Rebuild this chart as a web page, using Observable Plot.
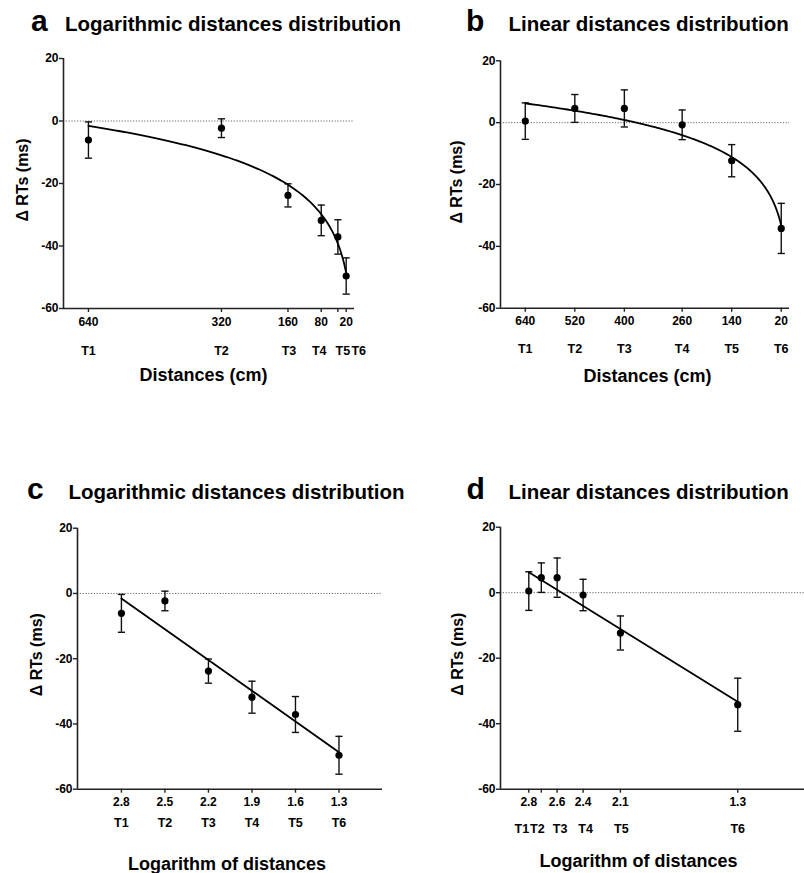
<!DOCTYPE html>
<html><head><meta charset="utf-8">
<script src="https://cdn.jsdelivr.net/npm/d3@7"></script>
<script src="https://cdn.jsdelivr.net/npm/@observablehq/plot@0.6"></script>
<style>
body{margin:0;background:#fff;}
#wrap{position:relative;width:804px;height:873px;overflow:hidden;font-family:"Liberation Sans",Arial,sans-serif;color:#000;background:#fff;}
.letter{position:absolute;font-weight:bold;font-size:30px;line-height:1;white-space:nowrap;}
.title{position:absolute;font-weight:bold;font-size:20.5px;line-height:1;white-space:nowrap;}
.panel{position:absolute;}
</style></head>
<body><div id="wrap"></div>
<script>
// ---- data ----
const tLabels = ["T1","T2","T3","T4","T5","T6"];
const logDistances = [640,320,160,80,40,20];     // cm, logarithmic distribution
const linDistances = [640,520,400,260,140,20];   // cm, linear distribution
const logMeans = [-6.1,-2.3,-23.8,-31.8,-37.1,-49.6];
const logSE    = [5.8,3.0,3.7,4.9,5.5,5.8];
const linMeans = [0.5,4.6,4.6,-0.7,-12.3,-34.2];
const linSE    = [5.9,4.5,6.0,4.8,5.2,8.1];
const tickA = ["640","320","160","80","","20"];
const tickB = ["640","520","400","260","140","20"];
const tickC = ["2.8","2.5","2.2","1.9","1.6","1.3"];
const tickD = ["2.8","","2.6","2.4","2.1","1.3"];
const yTicks = [-60,-40,-20,0,20];
const panelLetters = ["a","b","c","d"];
const panelTitles = ["Logarithmic distances distribution","Linear distances distribution","Logarithmic distances distribution","Linear distances distribution"];
const xLabels = ["Distances (cm)","Distances (cm)","Logarithm of distances","Logarithm of distances"];
const yLabel = "\u0394 RTs (ms)";

const wrap = document.getElementById("wrap");

const capSymbol = {draw(ctx, size){ const r = Math.sqrt(size/Math.PI); ctx.moveTo(-r,0); ctx.lineTo(r,0); }};

function logFitCurve(xs, ys){
  const lx = xs.map(Math.log);
  const mx = d3.mean(lx), my = d3.mean(ys);
  const b = d3.sum(lx,(v,i)=>(v-mx)*(ys[i]-my))/d3.sum(lx,v=>(v-mx)**2);
  const a = my - b*mx;
  const lo = Math.log(d3.min(xs)), hi = Math.log(d3.max(xs));
  return d3.range(0,201).map(i=>{const x=Math.exp(hi+(lo-hi)*i/200); return {x, y:a+b*Math.log(x)};});
}

function panel(cfg){
  const data = cfg.xs.map((x,i)=>({x, y:cfg.means[i], lo:cfg.means[i]-cfg.ses[i], hi:cfg.means[i]+cfg.ses[i], t:tLabels[i], tick:cfg.ticks[i], nudge:cfg.tNudge[i]}));
  const fmt = new Map(data.map(d=>[d.x,d.tick]));
  const marks = [
    Plot.ruleY([0],{stroke:"#666",strokeWidth:1,strokeDasharray:"1.2,1.6"}),
    Plot.ruleX(data,{x:"x",y1:"lo",y2:"hi",stroke:"#111",strokeWidth:1.4}),
    Plot.dot(data,{x:"x",y:"lo",symbol:capSymbol,r:3.6,stroke:"#111",fill:"none",strokeWidth:1.4}),
    Plot.dot(data,{x:"x",y:"hi",symbol:capSymbol,r:3.6,stroke:"#111",fill:"none",strokeWidth:1.4}),
  ];
  if (cfg.fit === "log") {
    marks.push(Plot.line(logFitCurve(cfg.xs,cfg.means),{x:"x",y:"y",stroke:"#000",strokeWidth:1.8}));
  } else {
    marks.push(Plot.linearRegressionY(data,{x:"x",y:"y",ci:0,stroke:"#000",strokeWidth:1.8}));
  }
  marks.push(
    Plot.dot(data,{x:"x",y:"y",r:3.6,fill:"#000",stroke:null}),
    Plot.ruleX([cfg.xDomain[0]],{stroke:"#222",strokeWidth:1.6}),
    Plot.ruleY([-60],{stroke:"#222",strokeWidth:1.6}),
    Plot.axisY({ticks:yTicks,tickSize:4,tickPadding:1,tickFormat:d=>String(d),label:null,stroke:"#222",strokeWidth:1.4,fontSize:12}),
    Plot.axisX(cfg.xs,{tickSize:4,tickPadding:4.5,tickFormat:d=>fmt.get(d),label:null,stroke:"#222",strokeWidth:1.4,fontSize:12})
  );
  // category labels under the ticks, each nudged apart where they crowd
  data.forEach(d=>{
    marks.push(Plot.text([d],{x:"x",text:"t",frameAnchor:"bottom",lineAnchor:"middle",dy:cfg.tDy,dx:d.nudge,fontSize:12.5}));
  });
  marks.push(
    Plot.text([cfg.xLabel],{frameAnchor:"bottom",textAnchor:"middle",lineAnchor:"middle",dy:cfg.labelDy,dx:cfg.labelDx,fontSize:18}),
    Plot.text([yLabel],{frameAnchor:"left",textAnchor:"middle",lineAnchor:"middle",rotate:-90,dx:cfg.yLabelDx,dy:cfg.yLabelDy,fontSize:16})
  );
  const svg = Plot.plot({
    width:cfg.width, height:cfg.height,
    marginTop:cfg.mTop, marginBottom:cfg.mBottom, marginLeft:cfg.mLeft, marginRight:cfg.mRight,
    x:{domain:cfg.xDomain},
    y:{domain:[-60,20]},
    style:{fontFamily:"'Liberation Sans', Arial, sans-serif",fontWeight:"bold",color:"#000",background:"transparent",overflow:"visible"},
    marks
  });
  svg.classList.add("panel");
  svg.style.left = cfg.left+"px";
  svg.style.top = cfg.top+"px";
  wrap.appendChild(svg);
}

const log10 = v => Math.log10(v);

panel({left:0,top:40,width:400,height:350,mTop:18,mBottom:82,mLeft:63,mRight:46,xDomain:[700,0],
  xs:logDistances,means:logMeans,ses:logSE,ticks:tickA,fit:"log",tDy:42,tNudge:[0,0,1,-2,5,12.5],labelDy:66.5,labelDx:-5.5,yLabelDx:-41,yLabelDy:-3.5,xLabel:xLabels[0]});
panel({left:400,top:40,width:404,height:350,mTop:20.3,mBottom:82.3,mLeft:100,mRight:15,xDomain:[700,0],
  xs:linDistances,means:linMeans,ses:linSE,ticks:tickB,fit:"log",tDy:40.3,tNudge:[0,0,0,0,0,0],labelDy:68,labelDx:2.5,yLabelDx:-44,yLabelDy:-2.5,xLabel:xLabels[1]});
panel({left:0,top:510,width:400,height:363,mTop:17.7,mBottom:84.3,mLeft:77,mRight:18,xDomain:[3.11,1.0],
  xs:logDistances.map(log10),means:logMeans,ses:logSE,ticks:tickC,fit:"linear",tDy:34,tNudge:[0,0,0,0,0,0],labelDy:75.5,labelDx:-3,yLabelDx:-41,yLabelDy:-4,xLabel:xLabels[2]});
panel({left:400,top:510,width:404,height:363,mTop:16.7,mBottom:84.3,mLeft:100,mRight:0,xDomain:[3.01,0.82],
  xs:linDistances.map(log10),means:linMeans,ses:linSE,ticks:tickD,fit:"linear",tDy:39.6,tNudge:[-7,-4,3,2.5,1,0],labelDy:72,labelDx:-14,yLabelDx:-42.5,yLabelDy:-4,xLabel:xLabels[3]});

// titles
const letterPos = [[31,6.3],[466,6.3],[27,474],[466.5,474]];
const titlePos = [[65,13.6],[508.5,13.6],[68.5,482],[508.5,482]];
panelLetters.forEach((l,i)=>{
  const e=document.createElement("div"); e.className="letter"; e.textContent=l;
  e.style.left=letterPos[i][0]+"px"; e.style.top=letterPos[i][1]+"px"; wrap.appendChild(e);
  const t=document.createElement("div"); t.className="title"; t.textContent=panelTitles[i];
  t.style.left=titlePos[i][0]+"px"; t.style.top=titlePos[i][1]+"px"; wrap.appendChild(t);
});
</script>
</body></html>
